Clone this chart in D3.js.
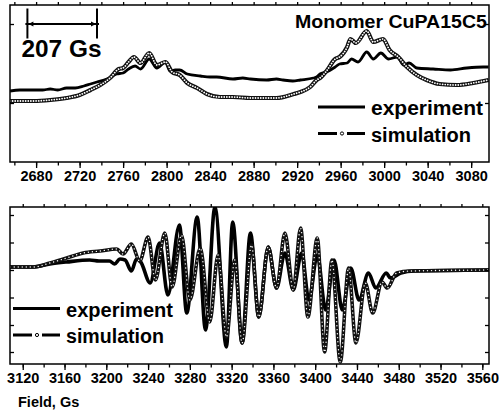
<!DOCTYPE html>
<html>
<head>
<meta charset="utf-8">
<script src="https://cdn.jsdelivr.net/npm/d3@7"></script>
<style>
  body { margin: 0; background: #fff; }
  svg { display: block; }
  text { font-family: "Liberation Sans", Arial, sans-serif; font-weight: bold; fill: #000; }
</style>
</head>
<body>
<svg id="chart" width="499" height="412"></svg>
<script>
// ---- Low-field (parallel) region, field in Gs, intensity in a.u. ----
const lowExpField = [2656,2665,2677,2686,2693,2700,2708,2716,2724,2730,2736,2745,2754,2760,2765,2771,2776,2784,2791,2799,2803,2808,2812,2819,2831,2840,2846,2861,2870,2877,2892,2901,2907,2916,2923,2935,2938,2941,2947,2955,2959,2966,2970,2976,2984,2990,2997,3004,3012,3018,3023,3030,3045,3061,3076,3091,3096];
const lowExp      = [71,72,72,72,73,72,74,74,76,78,80,83,88,89,93,96,93,103,94,100,91,92,92,88,86,85,85,83,84,83,82,83,82,81,82,84,85,88,90,95,98,99,103,100,110,103,109,103,105,97,99,94,93,92,94,95,95];

const lowSimField = [2656,2678,2693,2708,2720,2730,2739,2748,2756,2760,2765,2770,2776,2784,2791,2799,2805,2812,2819,2828,2837,2849,2861,2877,2901,2917,2923,2932,2938,2941,2947,2955,2959,2966,2969,2974,2984,2990,2999,3005,3013,3021,3030,3039,3051,3067,3082,3096];
const lowSim      = [61,61,62,64,67,72,77,84,93,94,100,105,99,109,97,100,90,87,79,74,68,65,65,64,64,68,70,75,82,84,91,103,105,115,123,119,131,120,123,112,105,95,87,82,78,77,79,82];

// ---- High-field (perpendicular) region ----
const highExpField = [3108,3130,3146,3162,3184,3193,3203,3208,3213,3218,3224,3229,3233,3242,3251,3259,3270,3277,3287,3295,3304,3315,3321,3330,3338,3346,3355,3363,3371,3379,3387,3394,3402,3410,3418,3426,3434,3442,3451,3458,3468,3472,3482,3495,3570];
const highExp      = [0,0,3,5,7,6,6,3,8,7,-4,8,5,-16,24,-28,42,-46,50,-63,60,-80,45,-76,34,-50,20,-21,14,-23,14,-33,12,-43,7,-43,-1,-33,-6,-21,-6,-11,-6,-4,-3];

const highSimField = [3108,3130,3146,3162,3178,3194,3210,3216,3224,3232,3240,3247,3256,3263,3272,3280,3290,3299,3307,3315,3323,3330,3339,3346,3355,3363,3371,3379,3386,3393,3402,3409,3416,3424,3432,3439,3448,3455,3464,3469,3478,3491,3570];
const highSim      = [0,0,4,9,14,16,18,13,23,6,30,-13,34,-20,32,-33,19,-55,12,-70,7,-76,22,-50,20,-21,34,-23,39,-50,29,-85,7,-95,-1,-76,-16,-46,-15,-21,-6,-4,-3];

// ---- Tick labels ----
const lowTickLabels  = [2680,2720,2760,2800,2840,2880,2920,2960,3000,3040,3080];
const highTickLabels = [3120,3160,3200,3240,3280,3320,3360,3400,3440,3480,3520,3560];
const lowYTicks  = [59,138];
const highYTicks = [52,24.5,-3,-30.5,-58,-85];

const svg = d3.select("#chart");
const left = 10, right = 489;

function zip(fs, vs) { return fs.map((f, i) => [f, vs[i]]); }

function drawPanel(cfg) {
  const x = d3.scaleLinear().domain(cfg.xDomain).range([left, right]);
  const y = d3.scaleLinear().domain(cfg.yDomain).range([cfg.bottom, cfg.top]);
  const g = svg.append("g");

  // clip so the traces stay inside the frame
  const clipId = "clip-" + cfg.name;
  svg.append("clipPath").attr("id", clipId)
    .append("rect").attr("x", left).attr("y", cfg.top)
    .attr("width", right - left).attr("height", cfg.bottom - cfg.top);

  const line = d3.line().x(d => x(d[0])).y(d => y(d[1])).curve(d3.curveMonotoneX);
  const plot = g.append("g").attr("clip-path", `url(#${clipId})`);

  // experiment trace
  plot.append("path").datum(zip(cfg.expField, cfg.exp))
    .attr("d", line).attr("fill", "none").attr("stroke", "#000")
    .attr("stroke-width", cfg.expWidth).attr("stroke-linejoin", "round");

  // simulation trace: dark line carrying a string of open-circle markers
  const simData = zip(cfg.simField, cfg.sim);
  plot.append("path").datum(simData)
    .attr("d", line).attr("fill", "none").attr("stroke", "#111")
    .attr("stroke-width", cfg.simWidth).attr("stroke-linejoin", "round");
  plot.append("path").datum(simData)
    .attr("d", line).attr("fill", "none").attr("stroke", "#fff")
    .attr("stroke-width", cfg.dotSize).attr("stroke-linecap", "round")
    .attr("stroke-dasharray", `0.01 ${cfg.dotGap}`);

  // axes: labelled major ticks below, minor ticks, mirrored ticks on top
  const minor = d3.range(Math.ceil(cfg.xDomain[0] / 20) * 20, cfg.xDomain[1], 20);
  const axB = g.append("g").attr("transform", `translate(0,${cfg.bottom})`)
    .call(d3.axisBottom(x).tickValues(cfg.ticks).tickSize(6).tickPadding(3).tickFormat(d3.format("d")));
  axB.select(".domain").remove();
  axB.selectAll("text").attr("font-size", 14.5).attr("font-family", null);
  axB.selectAll("line").attr("stroke-width", 1.3);
  const axBm = g.append("g").attr("transform", `translate(0,${cfg.bottom})`)
    .call(d3.axisBottom(x).tickValues(minor).tickSize(3.5).tickFormat(""));
  axBm.select(".domain").remove();
  axBm.selectAll("line").attr("stroke-width", 1.3);
  const axT = g.append("g").attr("transform", `translate(0,${cfg.top})`)
    .call(d3.axisTop(x).tickValues(minor).tickSize(3).tickFormat(""));
  axT.select(".domain").remove();
  axT.selectAll("line").attr("stroke-width", 1.3);

  // unlabeled intensity ticks pointing inward on both sides
  const axL = g.append("g").attr("transform", `translate(${left},0)`)
    .call(d3.axisRight(y).tickValues(cfg.yTicks).tickSize(4).tickFormat(""));
  axL.select(".domain").remove();
  axL.selectAll("line").attr("stroke-width", 1.3);
  const axR = g.append("g").attr("transform", `translate(${right},0)`)
    .call(d3.axisLeft(y).tickValues(cfg.yTicks).tickSize(4).tickFormat(""));
  axR.select(".domain").remove();
  axR.selectAll("line").attr("stroke-width", 1.3);

  // frame
  g.append("rect").attr("x", left).attr("y", cfg.top)
    .attr("width", right - left).attr("height", cfg.bottom - cfg.top)
    .attr("fill", "none").attr("stroke", "#000").attr("stroke-width", 1.5);

  return { x, y, g };
}

function label(sel, x, y, size, str, width, anchor) {
  const t = sel.append("text").attr("x", x).attr("y", y).attr("font-size", size)
    .attr("text-anchor", anchor || "start").text(str);
  if (width) t.attr("textLength", width).attr("lengthAdjust", "spacingAndGlyphs");
  return t;
}

function legend(g, x0, yExp, ySim, fontSize, wExp, wSim) {
  const len = 47;
  g.append("line").attr("x1", x0).attr("x2", x0 + len).attr("y1", yExp).attr("y2", yExp)
    .attr("stroke", "#000").attr("stroke-width", 3);
  g.append("line").attr("x1", x0).attr("x2", x0 + 19).attr("y1", ySim).attr("y2", ySim)
    .attr("stroke", "#000").attr("stroke-width", 3);
  g.append("line").attr("x1", x0 + 29).attr("x2", x0 + len).attr("y1", ySim).attr("y2", ySim)
    .attr("stroke", "#000").attr("stroke-width", 3);
  g.append("circle").attr("cx", x0 + 24).attr("cy", ySim).attr("r", 1.6)
    .attr("fill", "#fff").attr("stroke", "#000").attr("stroke-width", 1);
  label(g, x0 + len + 6, yExp + 8, fontSize, "experiment", wExp);
  label(g, x0 + len + 6, ySim + 8, fontSize, "simulation", wSim);
}

// upper panel: low-field region
const lowPanel = drawPanel({
  name: "low", top: 5, bottom: 162,
  xDomain: [2656, 3096.4], yDomain: [0, 157],
  expField: lowExpField, exp: lowExp, simField: lowSimField, sim: lowSim,
  ticks: lowTickLabels, yTicks: lowYTicks,
  expWidth: 2.8, simWidth: 4.2, dotSize: 1.8, dotGap: 2.6
});

// lower panel: high-field region
const highPanel = drawPanel({
  name: "high", top: 207, bottom: 364,
  xDomain: [3107.8, 3566.4], yDomain: [-97, 60],
  expField: highExpField, exp: highExp, simField: highSimField, sim: highSim,
  ticks: highTickLabels, yTicks: highYTicks,
  expWidth: 3.6, simWidth: 3.6, dotSize: 1.4, dotGap: 4
});

// title of the upper panel
label(svg, 487, 28, 19, "Monomer CuPA15C5", 192, "end");

// 207 Gs scale bar
const sb = svg.append("g");
const sx0 = lowPanel.x(2672), sx1 = lowPanel.x(2736), sy = 24;
sb.append("line").attr("x1", sx0).attr("x2", sx0).attr("y1", 8.5).attr("y2", 38.5).attr("stroke", "#000").attr("stroke-width", 2);
sb.append("line").attr("x1", sx1).attr("x2", sx1).attr("y1", 8.5).attr("y2", 38.5).attr("stroke", "#000").attr("stroke-width", 2);
sb.append("line").attr("x1", sx0 - 2).attr("x2", sx1 + 2).attr("y1", sy).attr("y2", sy).attr("stroke", "#000").attr("stroke-width", 2);
sb.append("path").attr("d", `M${sx0 + 1},${sy} l5,-2.5 l0,5 z M${sx1 - 1},${sy} l-5,-2.5 l0,5 z`).attr("fill", "#000");
label(svg, 21.5, 57, 24, "207 Gs", 80);

legend(svg, 318, 107, 133.5, 20, 112, 100);
legend(svg, 13, 308.5, 335, 20, 107, 98);

label(svg, 18, 407, 14.5, "Field, Gs");
</script>
</body>
</html>
